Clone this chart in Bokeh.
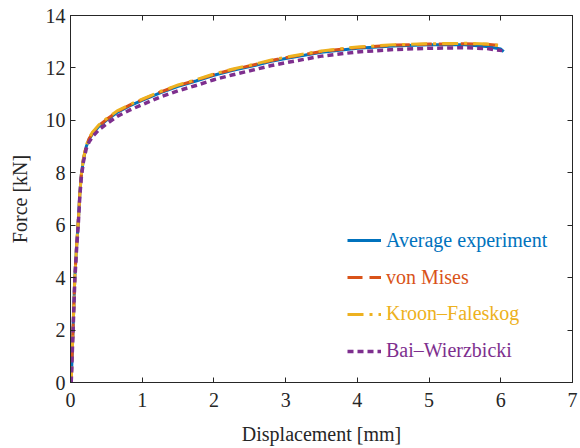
from bokeh.plotting import figure
from bokeh.models import Legend, LegendItem, LinearAxis, Range1d, FixedTicker
from bokeh.embed import file_html
from bokeh.resources import INLINE

# ---- data ----
avg_x = [0.01, 0.035, 0.06, 0.085, 0.11, 0.13, 0.15, 0.18, 0.22, 0.26, 0.31, 0.4, 0.5, 0.65, 0.83,
         1.0, 1.25, 1.5, 1.75, 2.0, 2.25, 2.5, 2.8, 3.0, 3.5, 4.0, 4.5, 5.0, 5.5, 5.8, 6.0, 6.04]
avg_F = [0.0, 2.0, 4.0, 5.2, 6.2, 7.2, 7.9, 8.5, 9.0, 9.28, 9.5, 9.78, 10.0, 10.3, 10.56,
         10.76, 11.05, 11.3, 11.5, 11.72, 11.9, 12.05, 12.25, 12.36, 12.6, 12.75, 12.84, 12.88, 12.88, 12.82, 12.72, 12.62]

vm_x = [0.01, 0.035, 0.06, 0.085, 0.11, 0.13, 0.15, 0.18, 0.22, 0.26, 0.31, 0.4, 0.5, 0.65, 0.83,
        1.0, 1.25, 1.5, 1.75, 2.0, 2.25, 2.5, 2.8, 3.0, 3.5, 4.0, 4.5, 5.0, 5.5, 5.8, 6.0]
vm_F = [0.0, 2.0, 4.0, 5.2, 6.2, 7.2, 7.9, 8.52, 9.03, 9.31, 9.53, 9.81, 10.03, 10.33, 10.59,
        10.79, 11.08, 11.33, 11.53, 11.75, 11.93, 12.08, 12.28, 12.39, 12.63, 12.78, 12.87, 12.91, 12.92, 12.9, 12.85]

kf_x = [0.01, 0.035, 0.06, 0.085, 0.11, 0.13, 0.15, 0.18, 0.22, 0.26, 0.31, 0.4, 0.5, 0.65, 0.83,
        1.0, 1.25, 1.5, 1.75, 2.0, 2.25, 2.5, 2.8, 3.0, 3.5, 4.0, 4.5, 5.0, 5.5, 5.8, 5.98]
kf_F = [0.0, 2.0, 4.0, 5.2, 6.2, 7.2, 7.9, 8.54, 9.05, 9.34, 9.56, 9.84, 10.06, 10.36, 10.61,
        10.81, 11.1, 11.35, 11.55, 11.77, 11.95, 12.1, 12.3, 12.41, 12.65, 12.8, 12.88, 12.92, 12.94, 12.91, 12.86]

bw_x = [0.01, 0.035, 0.06, 0.085, 0.11, 0.13, 0.15, 0.18, 0.22, 0.26, 0.31, 0.4, 0.5, 0.65, 0.83,
        1.0, 1.25, 1.5, 1.75, 2.0, 2.25, 2.5, 2.8, 3.0, 3.5, 4.0, 4.5, 5.0, 5.5, 5.8, 6.02]
bw_F = [0.0, 1.9, 3.9, 5.1, 6.1, 7.1, 7.8, 8.42, 8.92, 9.18, 9.39, 9.65, 9.86, 10.15, 10.4,
        10.6, 10.89, 11.13, 11.33, 11.55, 11.73, 11.89, 12.09, 12.2, 12.45, 12.61, 12.7, 12.75, 12.77, 12.74, 12.66]

x_ticks = [0, 1, 2, 3, 4, 5, 6, 7]
y_ticks = [0, 2, 4, 6, 8, 10, 12, 14]

series_names = ["Average experiment", "von Mises", "Kroon\u2013Faleskog", "Bai\u2013Wierzbicki"]
colors = ["#0072BD", "#D95319", "#EDB120", "#7E2F8E"]

FONT = "Liberation Serif"
AX = "#262626"
FS = "20px"

p = figure(width=580, height=448, output_backend="svg", toolbar_location=None,
           x_range=Range1d(0, 7), y_range=Range1d(0, 14),
           min_border_left=70, min_border_right=8, min_border_top=15, min_border_bottom=66,
           x_axis_label="Displacement [mm]", y_axis_label="Force [kN]")
p.grid.visible = False
p.outline_line_color = AX
p.outline_line_width = 1
p.background_fill_color = "white"
p.border_fill_color = "white"

for ax in (p.xaxis[0], p.yaxis[0]):
    ax.major_label_text_font = FONT
    ax.major_label_text_font_size = FS
    ax.major_label_text_color = AX
    ax.axis_label_text_font = FONT
    ax.axis_label_text_font_size = FS
    ax.axis_label_text_font_style = "normal"
    ax.axis_label_text_color = AX
    ax.axis_line_color = AX
    ax.major_tick_line_color = AX
    ax.major_tick_in = 5
    ax.major_tick_out = 0
    ax.minor_tick_line_color = None
p.xaxis[0].ticker = FixedTicker(ticks=x_ticks)
p.yaxis[0].ticker = FixedTicker(ticks=y_ticks)
p.xaxis[0].major_label_standoff = 10
p.xaxis[0].axis_label_standoff = 13
p.yaxis[0].major_label_standoff = 5
p.yaxis[0].axis_label_standoff = 12

top = LinearAxis(ticker=FixedTicker(ticks=x_ticks),
                 major_label_overrides={t: "" for t in x_ticks},
                 major_label_standoff=0,
                 major_tick_in=5, major_tick_out=0, minor_tick_line_color=None,
                 axis_line_color=AX, major_tick_line_color=AX)
right = LinearAxis(ticker=FixedTicker(ticks=y_ticks),
                   major_label_overrides={t: "" for t in y_ticks},
                   major_label_standoff=0,
                   major_tick_in=5, major_tick_out=0, minor_tick_line_color=None,
                   axis_line_color=AX, major_tick_line_color=AX)
p.add_layout(top, "above")
p.add_layout(right, "right")

r_avg = p.line(avg_x, avg_F, line_color=colors[0], line_width=3)
r_vm = p.line(vm_x, vm_F, line_color=colors[1], line_width=3, line_dash="15 7")
r_kf = p.line(kf_x, kf_F, line_color=colors[2], line_width=3, line_dash="16 6 3 6")
r_bw = p.line(bw_x, bw_F, line_color=colors[3], line_width=3.5, line_dash="6 4")

renderers = [r_avg, r_vm, r_kf, r_bw]
for i, (name, col, r) in enumerate(zip(series_names, colors, renderers)):
    lg = Legend(items=[LegendItem(label=name, renderers=[r])],
                location=(277, 20 + (3 - i) * 36.7),
                padding=0, margin=0, border_line_color=None, background_fill_alpha=0,
                glyph_width=34, glyph_height=20, label_standoff=5,
                label_text_font=FONT, label_text_font_size=FS, label_text_color=col)
    p.add_layout(lg, "center")

open("out.html", "w").write(file_html(p, INLINE))
